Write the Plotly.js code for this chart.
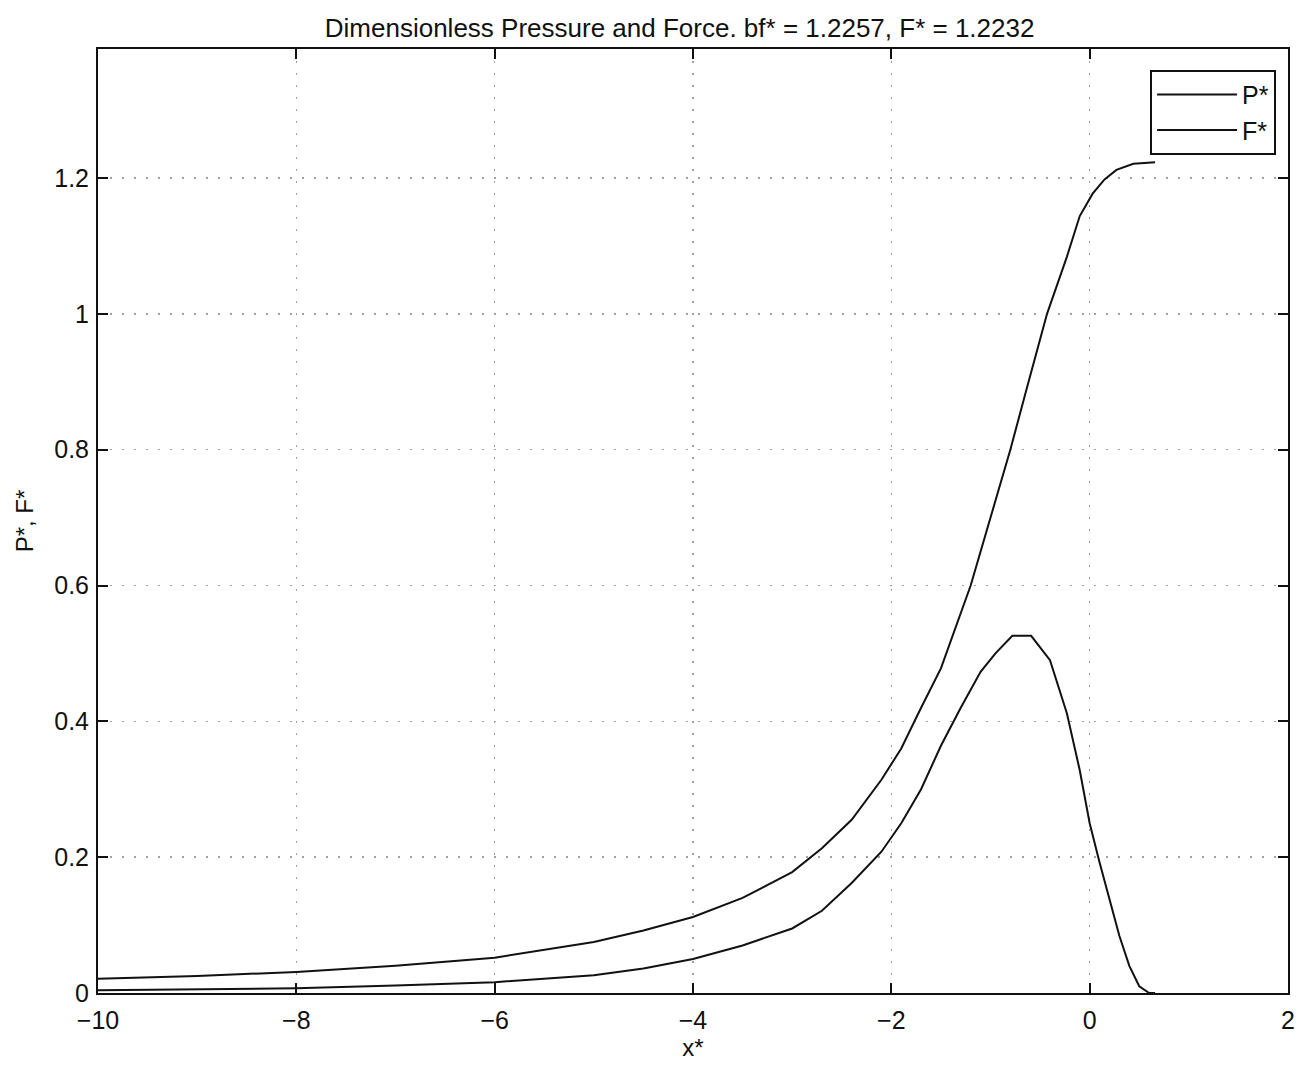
<!DOCTYPE html>
<html>
<head>
<meta charset="utf-8">
<script src="https://cdn.plot.ly/plotly-3.0.1.min.js"></script>
<style>
html,body{margin:0;padding:0;background:#fff;}
#chart{width:1312px;height:1065px;}
</style>
</head>
<body>
<div id="chart"></div>
<script>
// P* (pressure, bell-shaped curve)
const pX = [-10, -9, -8, -7, -6, -5, -4.5, -4, -3.5, -3, -2.7, -2.4, -2.1, -1.9, -1.7, -1.5, -1.3, -1.1, -0.95, -0.78, -0.59, -0.4, -0.23, -0.1, 0, 0.1, 0.2, 0.3, 0.4, 0.5, 0.6, 0.66];
const pY = [0.004, 0.005, 0.007, 0.011, 0.016, 0.026, 0.036, 0.05, 0.07, 0.095, 0.121, 0.162, 0.208, 0.25, 0.3, 0.364, 0.42, 0.473, 0.5, 0.526, 0.526, 0.49, 0.412, 0.328, 0.25, 0.192, 0.137, 0.084, 0.04, 0.01, 0.0, 0.0];
// F* (force, cumulative S-shaped curve)
const fX = [-10, -9, -8, -7, -6, -5, -4.5, -4, -3.5, -3, -2.7, -2.4, -2.1, -1.9, -1.7, -1.5, -1.2, -1.0, -0.8, -0.64, -0.43, -0.23, -0.1, 0.03, 0.15, 0.27, 0.44, 0.66];
const fY = [0.021, 0.025, 0.031, 0.04, 0.052, 0.075, 0.092, 0.112, 0.14, 0.178, 0.213, 0.255, 0.314, 0.36, 0.42, 0.478, 0.6, 0.7, 0.8, 0.887, 1.0, 1.084, 1.144, 1.177, 1.198, 1.212, 1.221, 1.2232];
const xTicks = [-10, -8, -6, -4, -2, 0, 2];
const yTicks = [0, 0.2, 0.4, 0.6, 0.8, 1, 1.2];
const yTickText = ['0', '0.2', '0.4', '0.6', '0.8', '1', '1.2'];

const FONT = 'Liberation Sans, Arial, Helvetica, sans-serif';

const traces = [
  {x: pX, y: pY, name: 'P*', type: 'scatter', mode: 'lines', line: {color: '#111', width: 2}},
  {x: fX, y: fY, name: 'F*', type: 'scatter', mode: 'lines', line: {color: '#111', width: 2}}
];

const axisCommon = {
  showline: true, linecolor: '#111', linewidth: 2, mirror: 'ticks',
  ticks: 'inside', ticklen: 10, tickwidth: 2, tickcolor: '#111',
  showgrid: true, gridcolor: '#a0a0a0', gridwidth: 1.5, griddash: '2px,10px',
  zeroline: false, tickfont: {family: FONT, size: 25, color: '#111'}
};

const layout = {
  width: 1312, height: 1065,
  paper_bgcolor: '#fff', plot_bgcolor: '#fff',
  margin: {l: 98, r: 24, t: 49, b: 72},
  title: {text: 'Dimensionless Pressure and Force. bf* = 1.2257, F* = 1.2232',
          font: {family: FONT, size: 26, color: '#111'}, x: 0.518, xanchor: 'center', y: 0.974, yanchor: 'middle'},
  xaxis: Object.assign({}, axisCommon, {
    range: [-10, 2], tickvals: xTicks, ticklabelstandoff: 4,
    title: {text: 'x*', font: {family: FONT, size: 24, color: '#111'}, standoff: 0}
  }),
  yaxis: Object.assign({}, axisCommon, {
    range: [0, 1.39], tickvals: yTicks, ticktext: yTickText, ticklabelstandoff: 2,
    title: {text: 'P*, F*', font: {family: FONT, size: 24, color: '#111'}, standoff: 14}
  }),
  showlegend: true,
  legend: {
    x: 0.99, xanchor: 'right', y: 0.978, yanchor: 'top',
    bgcolor: '#fff', bordercolor: '#111', borderwidth: 2,
    font: {family: FONT, size: 25, color: '#111'},
    itemwidth: 80, tracegroupgap: 0
  }
};

Plotly.newPlot('chart', traces, layout, {displayModeBar: false, staticPlot: true});
</script>
</body>
</html>
